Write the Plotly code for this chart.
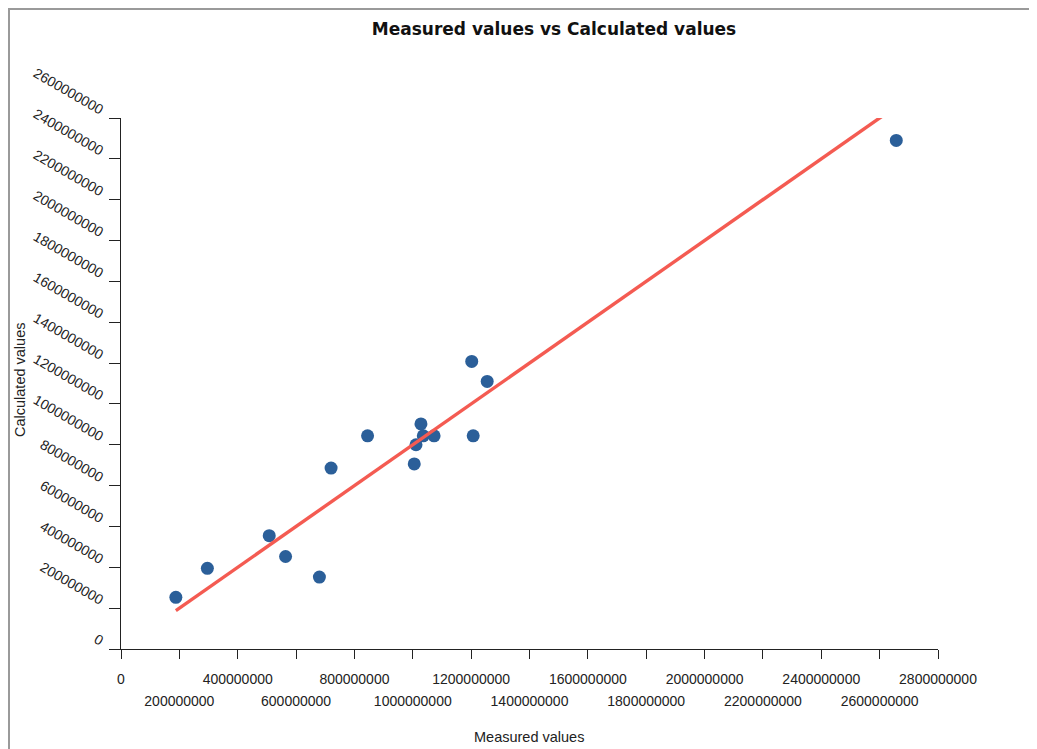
import plotly.graph_objects as go

# ---- data ----
measured = [188e6, 296e6, 508e6, 564e6, 680e6, 720e6, 845e6, 1005e6, 1011e6,
            1028e6, 1036e6, 1073e6, 1202e6, 1207e6, 1255e6, 2657e6]
calculated = [253e6, 395e6, 555e6, 453e6, 352e6, 886e6, 1044e6, 906e6, 1000e6,
              1102e6, 1044e6, 1044e6, 1408e6, 1044e6, 1310e6, 2490e6]

x_ticks_row1 = [0, 400e6, 800e6, 1200e6, 1600e6, 2000e6, 2400e6, 2800e6]
x_ticks_row2 = [200e6, 600e6, 1000e6, 1400e6, 1800e6, 2200e6, 2600e6]
x_ticks_all = sorted(x_ticks_row1 + x_ticks_row2)
y_ticks = [i * 200e6 for i in range(14)]

x_range = [0, 2800e6]
y_range = [0, 2600e6]

# identity (perfect-fit) line over the measured span
fit_x = [min(measured), max(measured)]
fit_y = fit_x

OFF = 8  # page offset of the figure (body margin)
W, H = 1037 - 2 * OFF, 749 - OFF
ML, MT, MB = 113, 110, 100
PW = 817
MR = W - ML - PW
PH = H - MT - MB


def px_x(p):  # page pixel -> paper fraction
    return (p - OFF - ML) / PW


def px_y(p):
    return (H - MB - (p - OFF)) / PH


fig = go.Figure()
fig.add_trace(go.Scatter(x=fit_x, y=fit_y, mode="lines", xaxis="x2",
                         line=dict(color="#f45b52", width=3.4),
                         hoverinfo="skip", showlegend=False))
fig.add_trace(go.Scatter(x=measured, y=calculated, mode="markers",
                         marker=dict(color="#2b5f99", size=13),
                         showlegend=False))

tickfont = dict(family="Liberation Sans, Arial, sans-serif", size=14, color="#222")
labfont = dict(family="Liberation Sans, Arial, sans-serif", size=14.5, color="#222")

fig.update_layout(
    width=W, height=H,
    margin=dict(l=ML, r=MR, t=MT, b=MB),
    paper_bgcolor="white", plot_bgcolor="white",
    title=dict(text="<b>Measured values vs Calculated values</b>",
               x=(554 - OFF) / W, xanchor="center", xref="container",
               y=1 - (29 - OFF) / H, yanchor="middle",
               font=dict(family="DejaVu Sans, Verdana, sans-serif", size=17, color="#111")),
    xaxis=dict(range=x_range, tickvals=x_ticks_all,
               ticktext=[f"{int(v)}" if v in x_ticks_row1 else "" for v in x_ticks_all],
               showgrid=False, zeroline=False, showline=True, linecolor="#222",
               linewidth=1, ticks="outside", ticklen=9, tickcolor="#222",
               tickfont=tickfont, ticklabelstandoff=8),
    xaxis2=dict(range=x_range, overlaying="x", anchor="y", side="bottom",
                tickvals=x_ticks_row2, ticktext=[f"{int(v)}" for v in x_ticks_row2],
                showgrid=False, zeroline=False, showline=False, ticks="",
                tickfont=tickfont, ticklabelstandoff=42),
    yaxis=dict(range=y_range, tickvals=y_ticks,
               ticktext=[f"{int(v)}" for v in y_ticks],
               showgrid=False, zeroline=False, showline=True, linecolor="#222",
               linewidth=1, ticks="outside", ticklen=11, tickcolor="#222",
               tickangle=30, tickfont=tickfont, ticklabelstandoff=3,
               ticklabelshift=-7),
    annotations=[
        dict(text="Measured values", xref="paper", yref="paper",
             x=px_x(529), y=px_y(737), showarrow=False,
             xanchor="center", yanchor="middle", font=labfont),
        dict(text="Calculated values", xref="paper", yref="paper",
             x=px_x(20), y=px_y(380), textangle=-90, showarrow=False,
             xanchor="center", yanchor="middle", font=labfont),
    ],
    shapes=[
        dict(type="line", xref="paper", yref="paper",
             x0=px_x(7), x1=px_x(1037 + 5), y0=px_y(9), y1=px_y(9),
             line=dict(color="#9a9a9a", width=2)),
        dict(type="line", xref="paper", yref="paper",
             x0=px_x(9), x1=px_x(9), y0=px_y(8), y1=px_y(749 + 5),
             line=dict(color="#9a9a9a", width=2)),
    ],
)

fig.write_html("out.html")
